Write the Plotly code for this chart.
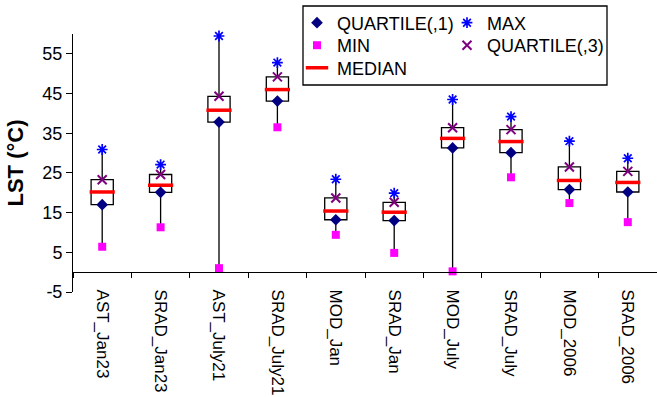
import plotly.graph_objects as go

categories = ["AST_Jan23", "SRAD_Jan23", "AST_July21", "SRAD_July21", "MOD_Jan",
              "SRAD_Jan", "MOD_July", "SRAD_July", "MOD_2006", "SRAD_2006"]
q1_vals = [17.0, 20.1, 37.8, 43.1, 13.2, 13.0, 31.3, 30.1, 20.8, 20.2]
min_vals = [6.4, 11.3, 1.0, 36.5, 9.4, 4.85, 0.2, 23.9, 17.4, 12.6]
median_vals = [20.2, 21.9, 40.8, 46.0, 15.4, 15.1, 33.7, 32.9, 23.1, 22.6]
max_vals = [30.9, 27.1, 59.5, 52.8, 23.4, 19.9, 43.5, 39.2, 33.0, 28.7]
q3_vals = [23.3, 24.6, 44.3, 49.2, 18.7, 17.6, 36.4, 35.9, 26.5, 25.4]
y_ticks = [-5, 5, 15, 25, 35, 45, 55]
y_range = [-5, 60]

FONT = "Liberation Sans, Arial, sans-serif"

# plot-area pixel helpers (for legend placement only)
L, T, W, H = 73, 34, 584, 258
def px_x(p):
    return (p - L) / W
def px_y(p):
    return (T + H - p) / H

fig = go.Figure()

fig.add_trace(go.Box(
    x=categories, q1=q1_vals, median=median_vals, q3=q3_vals,
    lowerfence=min_vals, upperfence=max_vals,
    fillcolor="white", line=dict(color="black", width=1.3),
    whiskerwidth=0, width=0.38, boxpoints=False,
    showlegend=False, hoverinfo="skip",
))

fig.add_trace(go.Scatter(
    x=categories, y=median_vals, mode="markers", name="MEDIAN",
    marker=dict(symbol="line-ew", size=18, line=dict(color="#FF0000", width=3.5)),
    legend="legend3", cliponaxis=False,
))
fig.add_trace(go.Scatter(
    x=categories, y=q1_vals, mode="markers", name="QUARTILE(,1)",
    marker=dict(symbol="diamond", size=9, color="#000080"),
    legend="legend", cliponaxis=False,
))
fig.add_trace(go.Scatter(
    x=categories, y=min_vals, mode="markers", name="MIN",
    marker=dict(symbol="square", size=8, color="#FF00FF"),
    legend="legend2", cliponaxis=False,
))
fig.add_trace(go.Scatter(
    x=categories, y=max_vals, mode="markers", name="MAX",
    marker=dict(symbol="asterisk", size=9, line=dict(color="#0000FF", width=1.7)),
    legend="legend4", cliponaxis=False,
))
fig.add_trace(go.Scatter(
    x=categories, y=q3_vals, mode="markers", name="QUARTILE(,3)",
    marker=dict(symbol="x-thin", size=9, line=dict(color="#800080", width=2)),
    legend="legend5", cliponaxis=False,
))

def leg(xp, yp):
    return dict(
        x=px_x(xp), y=px_y(yp), xanchor="left", yanchor="middle",
        bgcolor="rgba(0,0,0,0)", borderwidth=0, font=dict(size=18, family=FONT),
    )

zero_frac = (0 - y_range[0]) / (y_range[1] - y_range[0])

fig.update_layout(
    width=657, height=397,
    margin=dict(l=L, r=657 - L - W, t=T, b=397 - T - H),
    paper_bgcolor="white", plot_bgcolor="white",
    font=dict(family=FONT, color="black", size=18),
    xaxis=dict(
        type="category", categoryarray=categories, categoryorder="array",
        range=[-0.5, 9.5], anchor="free", position=zero_frac,
        showline=True, linecolor="black", linewidth=1,
        ticks="outside", ticklen=5, tickcolor="black", tickson="boundaries",
        showgrid=False, zeroline=False, tickangle=90,
        tickfont=dict(size=17, family=FONT), ticklabelstandoff=13,
    ),
    yaxis=dict(
        range=y_range, tickvals=y_ticks, ticktext=[str(v) for v in y_ticks],
        showline=True, linecolor="black",
        linewidth=1, ticks="outside", ticklen=6, tickcolor="black",
        showgrid=False, zeroline=False,
        tickfont=dict(size=18, family=FONT),
        title=dict(text="<b>LST (°C)</b>", font=dict(size=22, family=FONT), standoff=12),
    ),
    legend=leg(297, 23),
    legend2=leg(297, 45.5),
    legend3=leg(297, 68),
    legend4=leg(447, 23),
    legend5=leg(447, 45.5),
    shapes=[dict(
        type="rect", xref="paper", yref="paper",
        x0=px_x(303), x1=px_x(607), y0=px_y(85), y1=px_y(6),
        line=dict(color="black", width=1.3), fillcolor="rgba(0,0,0,0)", layer="above",
    )],
)

fig.write_html("out.html")
